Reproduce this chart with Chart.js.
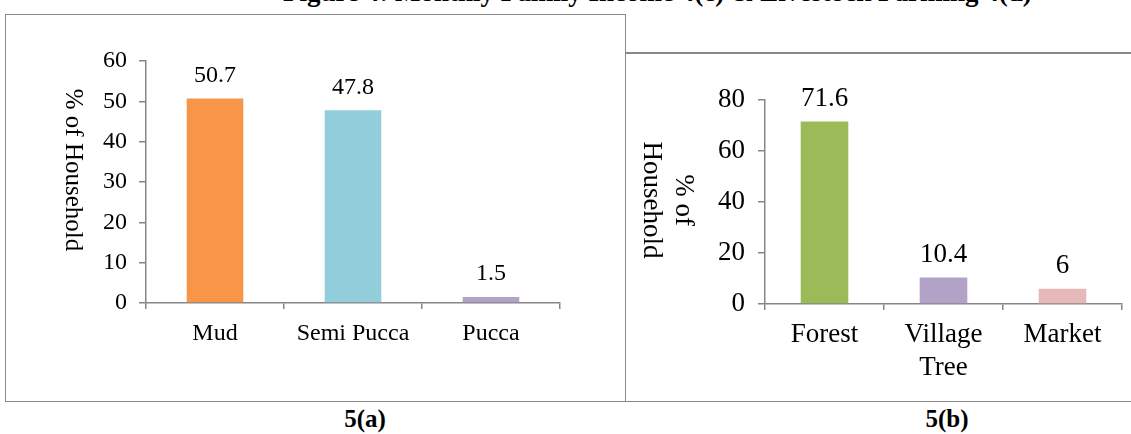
<!DOCTYPE html>
<html>
<head>
<meta charset="utf-8">
<script src="https://cdn.jsdelivr.net/npm/chart.js@4"></script>
<style>
  body { margin: 0; width: 1131px; height: 434px; overflow: hidden; background: #fff; position: relative; font-family: "Liberation Serif", "Times New Roman", serif; }
  .fig-title { position: absolute; top: -21px; left: 283px; font-weight: bold; font-size: 27px; line-height: 1; white-space: nowrap; }
  .box { position: absolute; box-sizing: content-box; }
  #boxA { left: 5px; top: 14px; width: 619px; height: 386px; border: 1px solid #898989; }
  #boxB { left: 626px; top: 52px; width: 520px; height: 347px; border-top: 2px solid #898989; border-bottom: 1px solid #898989; }
  .cap { position: absolute; top: 406px; font-weight: bold; font-size: 25px; line-height: 1; transform: translateX(-50%); }
  canvas { display: block; }
</style>
</head>
<body>
<div class="fig-title">Figure 4: Monthly Family Income 4(c) &amp; Livestock Farming 4(d)</div>
<div class="box" id="boxA"><canvas id="chartA" width="619" height="386"></canvas></div>
<div class="box" id="boxB"><canvas id="chartB" width="505" height="347"></canvas></div>
<div class="cap" style="left:365px">5(a)</div>
<div class="cap" style="left:947px">5(b)</div>
<script>
// Data
const houseTypes = ['Mud', 'Semi Pucca', 'Pucca'];
const houseValues = [50.7, 47.8, 1.5];
const houseColors = ['#F79646', '#92CDDC', '#B2A2C7'];
const houseTicks = [0, 10, 20, 30, 40, 50, 60];

const fuelSources = ['Forest', 'Village Tree', 'Market'];
const fuelValues = [71.6, 10.4, 6];
const fuelColors = ['#9BBB59', '#B2A2C7', '#E6B9B8'];
const fuelTicks = [0, 20, 40, 60, 80];

const axisGrey = '#868686';
const serif = '"Liberation Serif", "Times New Roman", serif';

// value above each bar
const valueLabels = {
    id: 'valueLabels',
    afterDatasetsDraw(chart, args, opts) {
        const ctx = chart.ctx;
        ctx.save();
        ctx.font = opts.size + 'px ' + serif;
        ctx.fillStyle = '#000';
        ctx.textAlign = 'center';
        ctx.textBaseline = 'bottom';
        chart.getDatasetMeta(0).data.forEach((bar, i) => {
            ctx.fillText(String(chart.data.datasets[0].data[i]), bar.x, bar.y - opts.gap);
        });
        ctx.restore();
    }
};

// y title rotated clockwise (reads top to bottom)
const sideTitle = {
    id: 'sideTitle',
    afterDraw(chart, args, opts) {
        const ctx = chart.ctx;
        ctx.save();
        ctx.font = opts.size + 'px ' + serif;
        ctx.fillStyle = '#000';
        ctx.textAlign = 'center';
        ctx.textBaseline = 'middle';
        ctx.translate(opts.x, opts.y);
        ctx.rotate(Math.PI / 2);
        const n = opts.lines.length;
        opts.lines.forEach((line, i) => {
            ctx.fillText(line, 0, -((n - 1) / 2 - i) * opts.lineGap);
        });
        ctx.restore();
    }
};

function makeChart(id, labels, values, colors, ticks, cfg) {
    return new Chart(document.getElementById(id), {
        type: 'bar',
        data: {
            labels: labels,
            datasets: [{ data: values, backgroundColor: colors, barPercentage: cfg.barPct, categoryPercentage: 1 }]
        },
        options: {
            responsive: false,
            animation: false,
            layout: { padding: { top: cfg.top, right: cfg.right, left: 0, bottom: 0 } },
            plugins: {
                legend: { display: false },
                tooltip: { enabled: false },
                valueLabels: { size: cfg.font, gap: cfg.valueGap },
                sideTitle: cfg.title
            },
            scales: {
                x: {
                    afterFit: s => { s.height = cfg.xHeight; },
                    grid: { drawOnChartArea: false, drawTicks: true, tickLength: 6, color: axisGrey, lineWidth: 1.5 },
                    border: { color: axisGrey, width: 1.5 },
                    ticks: {
                        color: '#000', padding: cfg.xPad, maxRotation: 0, autoSkip: false,
                        font: { family: serif, size: cfg.font, lineHeight: 1.2 },
                        callback: function (v) {
                            const lab = this.getLabelForValue(v);
                            return cfg.splitLabels ? lab.split(' ') : lab;
                        }
                    }
                },
                y: {
                    min: ticks[0],
                    max: ticks[ticks.length - 1],
                    afterFit: s => { s.width = cfg.yWidth; },
                    afterBuildTicks: s => { s.ticks = ticks.map(v => ({ value: v })); },
                    grid: { drawOnChartArea: false, drawTicks: true, tickLength: 7, color: axisGrey, lineWidth: 1.5 },
                    border: { color: axisGrey, width: 1.5 },
                    ticks: { color: '#000', padding: cfg.yPad, font: { family: serif, size: cfg.font } }
                }
            }
        },
        plugins: [valueLabels, sideTitle]
    });
}

makeChart('chartA', houseTypes, houseValues, houseColors, houseTicks, {
    barPct: 0.41, top: 46, right: 65, xHeight: 98, yWidth: 140, xPad: 10, yPad: 12,
    font: 24, valueGap: 11, splitLabels: false,
    title: { lines: ['% of Household'], x: 67, y: 155, size: 25, lineGap: 0 }
});

makeChart('chartB', fuelSources, fuelValues, fuelColors, fuelTicks, {
    barPct: 0.40, top: 46, right: 9, xHeight: 97, yWidth: 139, xPad: 9, yPad: 13,
    font: 27, valueGap: 9, splitLabels: true,
    title: { lines: ['% of', 'Household'], x: 41, y: 146, size: 27, lineGap: 32 }
});
</script>
</body>
</html>
